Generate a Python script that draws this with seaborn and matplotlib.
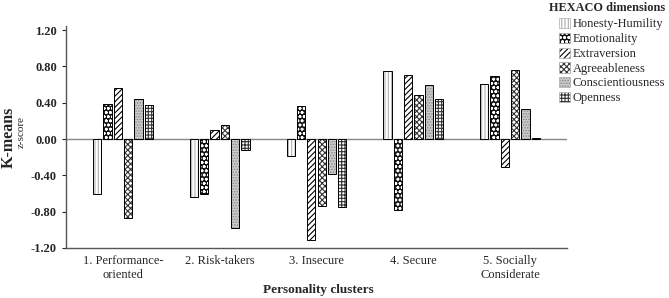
import matplotlib
matplotlib.use("Agg")
import matplotlib.pyplot as plt
import matplotlib.colors as mcolors
from matplotlib.patches import Patch
import seaborn as sns
import pandas as pd

clusters = ["1. Performance-\noriented", "2. Risk-takers", "3. Insecure", "4. Secure", "5. Socially\nConsiderate"]
dimensions = ["Honesty-Humility", "Emotionality", "Extraversion", "Agreeableness", "Conscientiousness", "Openness"]
honesty = [-0.61, -0.64, -0.19, 0.75, 0.61]
emotionality = [0.39, -0.61, 0.36, -0.78, 0.69]
extraversion = [0.56, 0.10, -1.11, 0.70, -0.31]
agreeableness = [-0.87, 0.16, -0.74, 0.49, 0.76]
conscientiousness = [0.44, -0.98, -0.39, 0.59, 0.33]
openness = [0.37, -0.12, -0.75, 0.44, 0.01]
yticks = [-1.2, -0.8, -0.4, 0.0, 0.4, 0.8, 1.2]

series = [honesty, emotionality, extraversion, agreeableness, conscientiousness, openness]
rows = []
for d, vals in zip(dimensions, series):
    for c, v in zip(clusters, vals):
        rows.append({"cluster": c, "dimension": d, "z": v})
df = pd.DataFrame(rows)

sns.set_style("ticks")
plt.rcParams["font.family"] = ["Liberation Serif", "DejaVu Serif"]
plt.rcParams["hatch.linewidth"] = 0.8

fig = plt.figure(figsize=(6.69, 2.98), dpi=100)
ax = fig.add_axes([66/669, 1-248/298, (567-66)/669, (248-26)/298])

sns.barplot(data=df, x="cluster", y="z", hue="dimension", order=clusters,
            hue_order=dimensions, width=0.64, gap=0.2, edgecolor="black",
            linewidth=0.7, legend=False, ax=ax, zorder=3)

styles = [
    dict(fc="white", hatch="|||||", hc="#b0b0b0"),
    dict(fc="#111111", hatch="oooo", hc="white"),
    dict(fc="white", hatch="//////", hc="black"),
    dict(fc="white", hatch="xxxxxx", hc="#333333"),
    dict(fc="#cccccc", hatch="......", hc="#888888"),
    dict(fc="white", hatch="+++++", hc="#333333"),
]
for cont, st in zip(ax.containers, styles):
    for p in cont:
        p.set_facecolor(st["fc"])
        p.set_hatch(st["hatch"])
        p._hatch_color = mcolors.to_rgba(st["hc"])

ax.axhline(0, color="#888888", lw=1.0, zorder=2)
ax.set_xlim(-0.59, 4.59)
ax.set_ylim(-1.2, 1.245)
ax.set_yticks(yticks)
ax.set_yticklabels([f"{t:.2f}" for t in yticks], fontweight="bold", fontsize=9)
ax.tick_params(axis="x", length=0, labelsize=9, pad=5)
ax.tick_params(axis="y", length=3, width=0.8)
ax.set_xlabel("")
ax.set_ylabel("")
for s in ["top", "right"]:
    ax.spines[s].set_visible(False)
for s in ["left", "bottom"]:
    ax.spines[s].set_color("#555555")
    ax.spines[s].set_linewidth(1.0)

fig.text(318/669, 1-290/298, "Personality clusters", ha="center", va="center",
         fontweight="bold", fontsize=9.5)
fig.text(9/669, 1-137/298, "K-means", rotation=90, ha="center", va="center",
         fontweight="bold", fontsize=11.5)
fig.text(21/669, 1-132/298, "z-score", rotation=90, ha="center", va="center",
         fontsize=8)

handles = []
for d, st in zip(dimensions, styles):
    h = Patch(facecolor=st["fc"], edgecolor="#aaaaaa", hatch=st["hatch"], linewidth=0.5, label=d)
    h._hatch_color = mcolors.to_rgba(st["hc"])
    handles.append(h)
fig.text(549/669, 1-8/298, "HEXACO dimensions", ha="left", va="center",
         fontweight="bold", fontsize=8.8)
leg = fig.legend(handles=handles, loc="upper left", bbox_to_anchor=(559/669, 1-18/298),
                 frameon=False, fontsize=9, borderpad=0, borderaxespad=0,
                 handlelength=0.9, handleheight=0.9, handletextpad=0.2,
                 labelspacing=0.18)

fig.savefig("out.png", dpi=100)
